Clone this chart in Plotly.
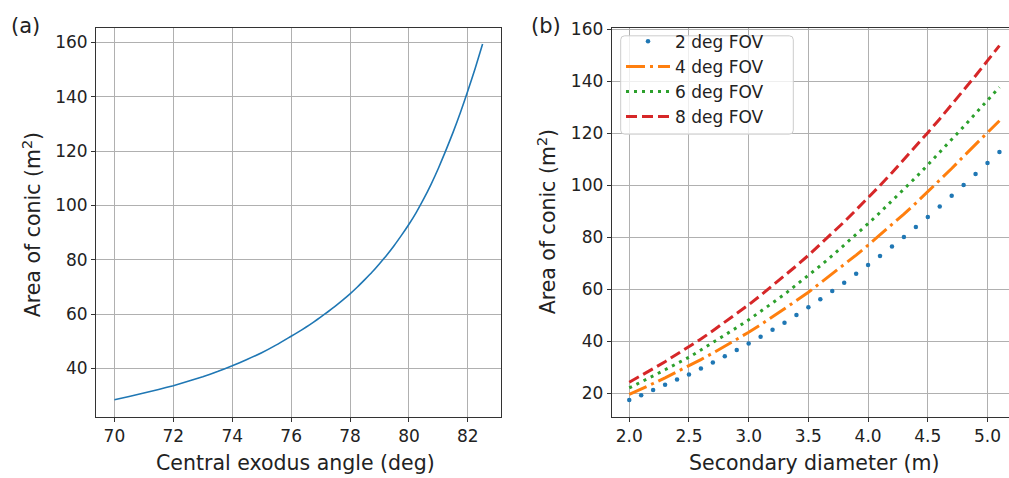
import plotly.graph_objects as go

# ---------------- data ----------------
# panel (a)
angle_deg = [70, 70.5, 71, 71.5, 72, 72.5, 73, 73.5, 74, 74.5, 75, 75.5, 76, 76.25,
             76.5, 76.75, 77, 77.25, 77.5, 77.75, 78, 78.25, 78.5, 78.75, 79, 79.25,
             79.5, 79.75, 80, 80.25, 80.5, 80.75, 81, 81.25, 81.5, 81.75, 82, 82.25,
             82.5]
area_a = [28.5, 29.7, 31.0, 32.3, 33.7, 35.3, 37.0, 38.9, 41.0, 43.3, 45.8, 48.7,
          51.9, 53.5, 55.2, 57.0, 58.9, 60.9, 63.0, 65.2, 67.5, 70.0, 72.7, 75.5,
          78.6, 81.8, 85.3, 89.1, 93.1, 97.5, 102.4, 107.8, 113.7, 120.2, 127.0,
          134.3, 142.2, 150.5, 159.4]

# panel (b)
diameter_m = [2.0, 2.1, 2.2, 2.3, 2.4, 2.5, 2.6, 2.7, 2.8, 2.9, 3.0, 3.1, 3.2, 3.3,
              3.4, 3.5, 3.6, 3.7, 3.8, 3.9, 4.0, 4.1, 4.2, 4.3, 4.4, 4.5, 4.6, 4.7,
              4.8, 4.9, 5.0, 5.1]
fov2 = [17.4, 19.2, 21.2, 23.2, 25.2, 27.2, 29.5, 31.8, 34.2, 36.6, 39.1, 41.7, 44.4,
        47.1, 50.1, 53.0, 56.1, 59.3, 62.5, 65.9, 69.3, 72.8, 76.4, 80.1, 83.9, 87.8,
        91.8, 95.9, 100.1, 104.3, 108.5, 112.8]
fov4 = [19.5, 21.5, 23.7, 25.9, 28.2, 30.4, 32.9, 35.4, 38.0, 40.7, 43.4, 46.3, 49.3,
        52.3, 55.6, 58.8, 62.3, 65.8, 69.4, 73.1, 76.9, 80.8, 84.8, 88.9, 93.1, 97.5,
        101.9, 106.4, 111.1, 115.8, 120.4, 124.8]
fov6 = [22.0, 24.2, 26.6, 29.0, 31.4, 33.8, 36.6, 39.4, 42.3, 45.2, 48.2, 51.4, 54.7,
        58.0, 61.7, 65.2, 69.0, 72.9, 76.9, 81.0, 85.2, 89.5, 93.9, 98.4, 103.0, 107.8,
        112.6, 117.5, 122.5, 127.6, 132.6, 137.7]
fov8 = [24.2, 26.7, 29.4, 32.1, 34.9, 37.7, 40.8, 44.0, 47.3, 50.6, 54.0, 57.6, 61.3,
        65.0, 69.0, 73.0, 77.2, 81.5, 85.9, 90.5, 95.1, 99.9, 104.8, 109.8, 114.9, 120.2,
        125.5, 130.9, 136.4, 142.1, 147.9, 153.7]
series_names = ["2 deg FOV", "4 deg FOV", "6 deg FOV", "8 deg FOV"]

xa_ticks = [70, 72, 74, 76, 78, 80, 82]
ya_ticks = [40, 60, 80, 100, 120, 140, 160]
xb_ticks = [2.0, 2.5, 3.0, 3.5, 4.0, 4.5, 5.0]
yb_ticks = [20, 40, 60, 80, 100, 120, 140, 160]

# ---------------- figure ----------------
W, H = 1009, 478
FONT = "DejaVu Sans"
C = ["#1f77b4", "#ff7f0e", "#2ca02c", "#d62728"]

fig = go.Figure()
fig.add_trace(go.Scatter(x=angle_deg, y=area_a, mode="lines",
                         line=dict(color=C[0], width=1.6, shape="spline", smoothing=0.5),
                         showlegend=False, xaxis="x", yaxis="y"))
fig.add_trace(go.Scatter(x=diameter_m, y=fov2, mode="markers", name=series_names[0],
                         marker=dict(color=C[0], size=4.5),
                         xaxis="x2", yaxis="y2"))
fig.add_trace(go.Scatter(x=diameter_m, y=fov4, mode="lines", name=series_names[1],
                         line=dict(color=C[1], width=3, dash="19px,5px,3px,5px"),
                         xaxis="x2", yaxis="y2"))
fig.add_trace(go.Scatter(x=diameter_m, y=fov6, mode="lines", name=series_names[2],
                         line=dict(color=C[2], width=3, dash="3px,5px"),
                         xaxis="x2", yaxis="y2"))
fig.add_trace(go.Scatter(x=diameter_m, y=fov8, mode="lines", name=series_names[3],
                         line=dict(color=C[3], width=3, dash="11px,5px"),
                         xaxis="x2", yaxis="y2"))

def px_x(p):
    return p / W

def px_y(p):
    return 1 - p / H

axis_common = dict(showgrid=True, gridcolor="#b0b0b0", gridwidth=0.8,
                   zeroline=False, ticks="outside", ticklen=4, tickwidth=1,
                   tickcolor="#333333", linecolor="#333333", linewidth=1,
                   showline=True,
                   tickfont=dict(family=FONT, size=17, color="#222222"))

fig.update_layout(
    width=W, height=H,
    margin=dict(l=0, r=0, t=0, b=0),
    paper_bgcolor="white", plot_bgcolor="white",
    font=dict(family=FONT, color="#222222"),
    xaxis=dict(domain=[px_x(96), px_x(501)], range=[69.375, 83.125],
               tickvals=xa_ticks, mirror=True, anchor="y", **axis_common),
    yaxis=dict(domain=[px_y(416), px_y(20)], range=[22.15, 165.45],
               tickvals=ya_ticks, mirror=True, anchor="x", **axis_common),
    xaxis2=dict(domain=[px_x(611.7), 1.0], range=[1.853, 5.180],
                tickvals=xb_ticks, tickformat=".1f", mirror=True, anchor="y2",
                **axis_common),
    yaxis2=dict(domain=[px_y(416), px_y(20)], range=[10.8, 160.6],
                tickvals=yb_ticks, mirror=False, anchor="x2", **axis_common),
    legend=dict(x=px_x(621), y=px_y(16), xanchor="left", yanchor="top",
                bgcolor="rgba(0,0,0,0)", borderwidth=0,
                font=dict(family=FONT, size=17, color="#222222"),
                itemwidth=44, tracegroupgap=0),
)

# legend frame (rounded, semi-transparent like the reference)
lx0, lx1, ly0, ly1, r = 620.7, 793.3, 28.3, 128.3, 4.0
rx, ry = r / W, r / H
X0, X1 = px_x(lx0), px_x(lx1)
Yt, Yb = px_y(ly0), px_y(ly1)
path = (f"M {X0+rx} {Yt} L {X1-rx} {Yt} Q {X1} {Yt} {X1} {Yt-ry} "
        f"L {X1} {Yb+ry} Q {X1} {Yb} {X1-rx} {Yb} "
        f"L {X0+rx} {Yb} Q {X0} {Yb} {X0} {Yb+ry} "
        f"L {X0} {Yt-ry} Q {X0} {Yt} {X0+rx} {Yt} Z")
fig.add_shape(type="path", path=path, xref="paper", yref="paper", layer="above",
              fillcolor="rgba(255,255,255,0.8)", line=dict(color="#cccccc", width=1))

ann = []
def add_text(text, x, y, size, angle=0):
    ann.append(dict(text=text, x=px_x(x), y=px_y(y), xref="paper", yref="paper",
                    xanchor="center", yanchor="middle", showarrow=False,
                    textangle=angle, font=dict(family=FONT, size=size, color="#222222")))

add_text("Central exodus angle (deg)", 295, 463, 20.5)
add_text("Secondary diameter (m)", 814.7, 463, 20.5)
add_text("Area of conic (m<sup>2</sup>)", 32, 221, 20.5, -90)
add_text("Area of conic (m<sup>2</sup>)", 547, 218, 20.5, -90)
add_text("(a)", 25, 18, 21)
add_text("(b)", 546, 18, 21)
fig.update_layout(annotations=ann)

fig.write_html("out.html", config={"displayModeBar": False},
               post_script="document.body.style.margin='0';"
                           "document.body.style.overflow='hidden';")
